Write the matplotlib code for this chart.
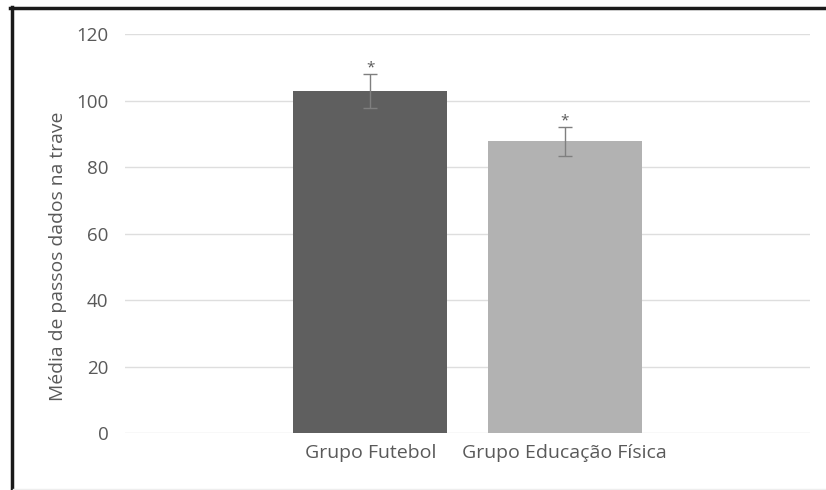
import matplotlib.pyplot as plt
from matplotlib.lines import Line2D

categories = ["Grupo Futebol", "Grupo Educação Física"]
means = [102.8, 87.7]
errors = [5.2, 4.4]
marks = ["*", "*"]
bar_colors = ["#5f5f5f", "#b2b2b2"]
y_ticks = [0, 20, 40, 60, 80, 100, 120]

plt.rcParams['font.family'] = ['Open Sans', 'DejaVu Sans']
text_color = "#595959"

fig = plt.figure(figsize=(8.26, 4.9), dpi=100)
W, H = 826, 490
ax = fig.add_axes([125 / W, 1 - 433 / H, (810 - 125) / W, (433 - 34) / H])

x = list(range(len(categories)))
ax.bar(x, means, width=0.79, color=bar_colors, zorder=2)
ax.errorbar(x, means, yerr=errors, fmt="none", ecolor="#7f7f7f",
            elinewidth=1, capsize=5, capthick=1, zorder=3)
for xi, m, e, s in zip(x, means, errors, marks):
    ax.text(xi, m + e - 0.6, s, ha="center", va="bottom",
            fontsize=11, color=text_color)

ax.set_xlim(-1.26, 2.26)
ax.set_ylim(0, 120)
ax.set_yticks(y_ticks)
ax.set_xticks(x)
ax.set_xticklabels(categories, fontsize=14)
ax.tick_params(axis="both", length=0, colors=text_color)
ax.tick_params(axis="y", pad=12, labelsize=13.5)
ax.tick_params(axis="x", pad=8)
ax.grid(axis="y", color="#dedede", linewidth=1, zorder=0)
for sp in ax.spines.values():
    sp.set_visible(False)
ax.set_ylabel("Média de passos dados na trave", fontsize=13.9,
              color=text_color)
ax.yaxis.set_label_coords(-0.085, 0.442)

# outer frame
fig.add_artist(Line2D([11.5 / W, 11.5 / W], [0, 1 - 7 / H],
                      transform=fig.transFigure, color="#1a1a1a", linewidth=2.5))
fig.add_artist(Line2D([10 / W, 1], [1 - 8.5 / H, 1 - 8.5 / H],
                      transform=fig.transFigure, color="#1a1a1a", linewidth=2.5))
fig.add_artist(Line2D([13 / W, 1], [1.5 / H, 1.5 / H],
                      transform=fig.transFigure, color="#eeeeee", linewidth=1))

fig.savefig("out.png", dpi=100)
